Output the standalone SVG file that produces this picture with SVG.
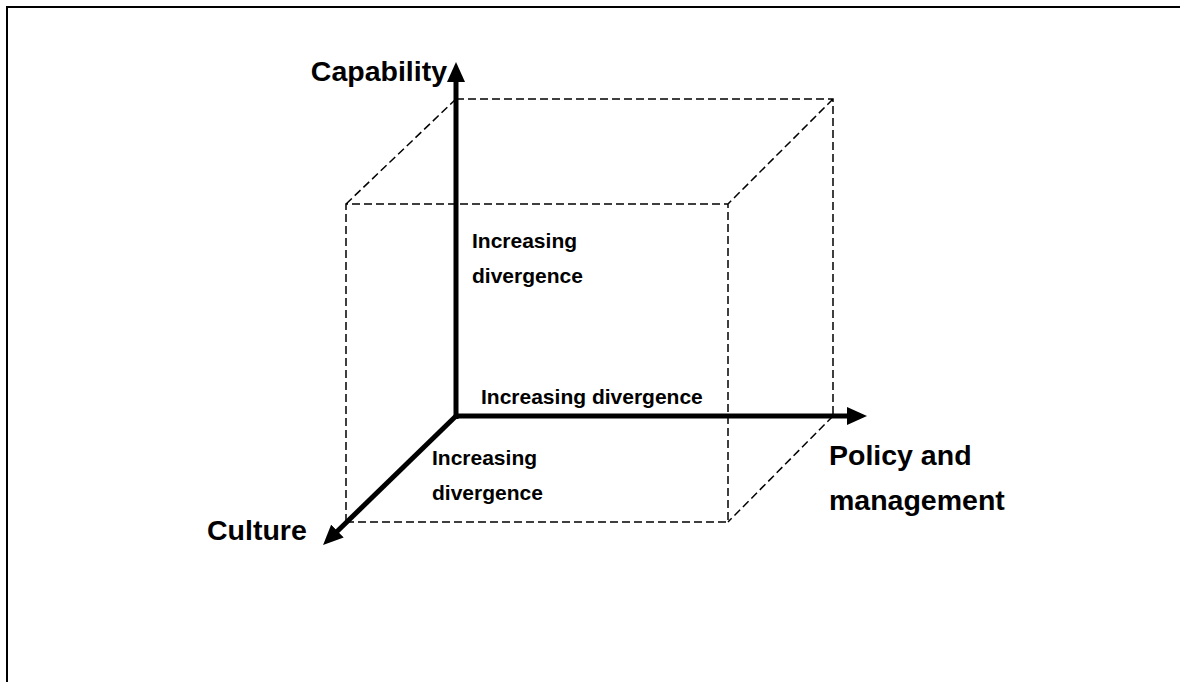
<svg xmlns="http://www.w3.org/2000/svg" width="1180" height="682" viewBox="0 0 1180 682">
<style>
.frame{fill:none;stroke:#000;stroke-width:2}
.dash{fill:none;stroke:#000;stroke-width:1.5;stroke-dasharray:8 4}
.axis{fill:none;stroke:#000;stroke-width:5;marker-end:url(#ah)}
.big{font-family:"Liberation Sans",Arial,sans-serif;font-weight:bold;font-size:28.5px;fill:#000}
.small{font-family:"Liberation Sans",Arial,sans-serif;font-weight:bold;font-size:21px;fill:#000}
</style>
<defs>
<marker id="ah" markerUnits="userSpaceOnUse" markerWidth="20" markerHeight="18" viewBox="0 0 20 18" refX="2" refY="9" orient="auto">
<path d="M0,0 L20,9 L0,18 Z" fill="#000"/>
</marker>
</defs>
<rect class="frame" x="7" y="7" width="1200" height="700"/>
<g id="cube">
<path class="dash" d="M456,99 H833 V416 M346,522 V204 H728 V522 H346 M456,99 L346,204 M833,99 L728,204 M833,416 L728,522"/>
</g>
<g id="connectors">
<line class="axis" x1="456" y1="419" x2="456" y2="80"/>
<line class="axis" x1="454" y1="416" x2="849" y2="416"/>
<line class="axis" x1="456" y1="416" x2="336" y2="532.5"/>
</g>
<g id="capability"><text class="big" x="447" y="81" text-anchor="end">Capability</text></g>
<g id="policy"><text class="big" x="829" y="465">Policy and</text><text class="big" x="829" y="510">management</text></g>
<g id="culture"><text class="big" x="207" y="540">Culture</text></g>
<g id="label-vertical"><text class="small" x="472" y="248">Increasing</text><text class="small" x="472" y="283">divergence</text></g>
<g id="label-horizontal"><text class="small" x="481" y="404">Increasing divergence</text></g>
<g id="label-diagonal"><text class="small" x="432" y="465">Increasing</text><text class="small" x="432" y="500">divergence</text></g>
</svg>
